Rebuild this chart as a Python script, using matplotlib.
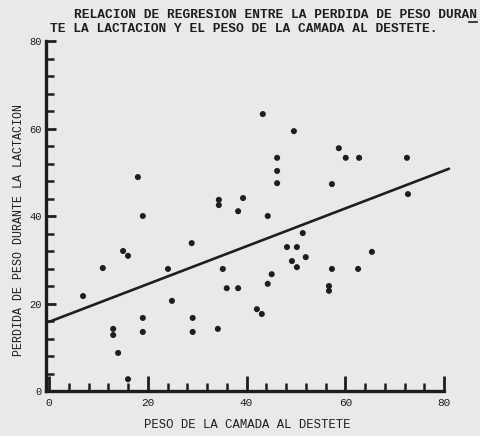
import matplotlib
matplotlib.use("Agg")
import matplotlib.pyplot as plt
from matplotlib.lines import Line2D

# ---- data ----
peso_camada = [6.9, 10.9, 13.0, 13.0, 14.0, 15.0, 16.0, 16.0, 18.0, 19.0,
               19.0, 19.0, 24.1, 24.9, 28.9, 29.1, 29.1, 34.2, 34.4, 34.4,
               35.2, 36.0, 38.3, 38.3, 39.3, 42.1, 43.1, 43.3, 44.3, 44.3,
               45.1, 46.2, 46.2, 46.2, 48.2, 49.6, 50.2, 49.2, 50.2, 51.4,
               52.0, 56.7, 56.7, 57.3, 57.3, 58.7, 60.1, 62.6, 62.8, 65.4,
               72.5, 72.7]
perdida_peso = [21.7, 28.1, 14.2, 12.8, 8.7, 32.0, 30.9, 2.7, 48.9, 40.0,
                16.7, 13.5, 27.9, 20.6, 33.8, 16.7, 13.5, 14.2, 43.7, 42.5,
                27.9, 23.5, 23.5, 41.1, 44.1, 18.7, 17.6, 63.3, 40.0, 24.5,
                26.7, 53.3, 50.3, 47.5, 32.9, 59.4, 32.9, 29.7, 28.3, 36.1,
                30.6, 24.0, 22.9, 47.3, 27.9, 55.5, 53.3, 27.9, 53.3, 31.8,
                53.3, 45.0]
regresion_x = [0, 81]
regresion_y = [15.8, 50.8]

x_major = [0, 20, 40, 60, 80]
y_major = [0, 20, 40, 60, 80]
x_minor = list(range(0, 81, 4))
y_minor = list(range(0, 81, 4))

titulo_1 = "RELACION DE REGRESION ENTRE LA PERDIDA DE PESO DURAN"
titulo_2 = "TE LA LACTACION Y EL PESO DE LA CAMADA AL DESTETE."
xlabel = "PESO DE LA CAMADA AL DESTETE"
ylabel = "PERDIDA DE PESO DURANTE LA LACTACION"

# ---- figure ----
W, H = 481, 436
paper = "#e9e9e9"
ink = "#1e1e1e"
mono = "Liberation Mono"

fig = plt.figure(figsize=(W / 100, H / 100), dpi=100, facecolor=paper)

# axes placed in pixel terms: x 0->49px, 80->444px ; y 0->391px, 80->41px
xlo, xhi = -0.6, 82.0
ylo, yhi = 0.0, 80.6
sx = (444 - 49) / 80.0
sy = (391 - 41) / 80.0
left_px = 49 + xlo * sx
right_px = 49 + xhi * sx
bottom_px = 391
top_px = 391 - yhi * sy
ax = fig.add_axes([left_px / W, (H - bottom_px) / H,
                   (right_px - left_px) / W, (bottom_px - top_px) / H])
ax.set_facecolor(paper)
ax.set_xlim(xlo, xhi)
ax.set_ylim(ylo, yhi)

for s in ["top", "right"]:
    ax.spines[s].set_visible(False)
ax.spines["left"].set_bounds(0, 80)
ax.spines["bottom"].set_bounds(xlo, 80)
for s in ["left", "bottom"]:
    ax.spines[s].set_linewidth(2.4)
    ax.spines[s].set_color(ink)

ax.set_xticks(x_major)
ax.set_xticks([v for v in x_minor if v not in x_major], minor=True)
ax.set_yticks(y_major)
ax.set_yticks([v for v in y_minor if v not in y_major], minor=True)
ax.set_xticklabels([str(v) for v in x_major])
ax.set_yticklabels([str(v) for v in y_major])

ax.tick_params(axis="x", which="major", direction="in", length=11, width=2,
               color=ink, pad=5, labelsize=8, labelcolor=ink)
ax.tick_params(axis="x", which="minor", direction="in", length=6, width=1.8,
               color=ink)
ax.tick_params(axis="y", which="major", direction="in", length=7.5, width=2,
               color=ink, pad=3, labelsize=7.5, labelcolor=ink)
ax.tick_params(axis="y", which="minor", direction="in", length=5.5, width=1.8,
               color=ink)
for lab in ax.get_xticklabels() + ax.get_yticklabels():
    lab.set_family(mono)

ax.plot(regresion_x, regresion_y, color=ink, lw=1.9, solid_capstyle="round",
        zorder=3)
ax.scatter(peso_camada, perdida_peso, s=19, marker="o", color=ink,
           edgecolors="none", zorder=4)

# titles (typewritten, monospaced)
tsize = 9.3
t_left = 74
fig.text(t_left / W, 1 - 15 / H, titulo_1, family=mono, fontsize=tsize,
         color=ink, ha="left", va="center", fontweight="bold")
# hyphenation underline under the final "N"
charw = 0.6 * tsize * 100 / 72.0
ux0 = t_left + (len(titulo_1) - 1) * charw
ux1 = t_left + len(titulo_1) * charw
fig.add_artist(Line2D([ux0 / W, min(ux1, W - 1) / W],
                      [1 - 22 / H, 1 - 22 / H], color=ink, lw=1.2))
fig.text(50 / W, 1 - 29 / H, titulo_2, family=mono, fontsize=tsize,
         color=ink, ha="left", va="center", fontweight="bold")

fig.text(247 / W, 1 - 425 / H, xlabel, family=mono, fontsize=8.8,
         color=ink, ha="center", va="center")
fig.text(19 / W, 1 - 230 / H, ylabel, family=mono, fontsize=8.4,
         color=ink, ha="center", va="center", rotation=90)

fig.savefig("out.png", dpi=100, facecolor=paper)
